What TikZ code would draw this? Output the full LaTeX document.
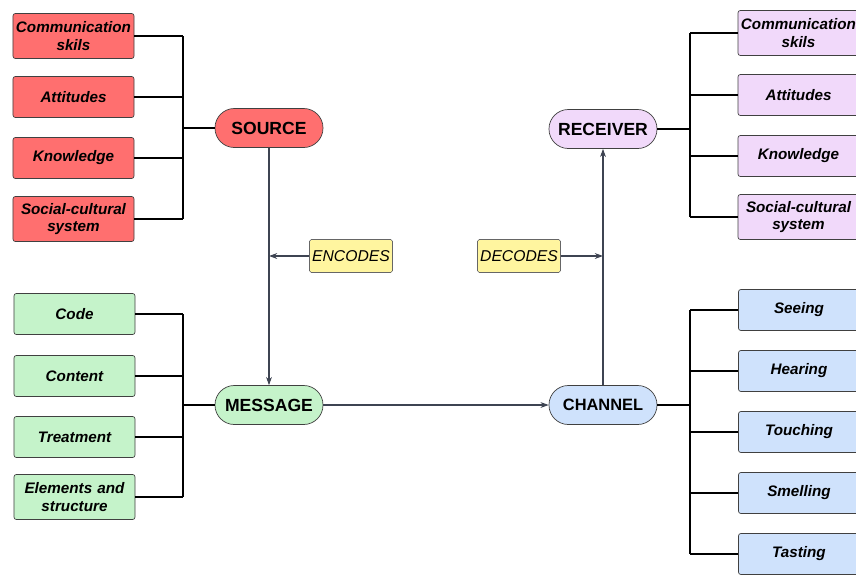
\documentclass[tikz,border=0pt]{standalone}
\usepackage{fontspec}
\setsansfont{Liberation Sans}
\usepackage{tikz}
\usetikzlibrary{arrows.meta}

\definecolor{srcred}{HTML}{FF6F6F}
\definecolor{recvpurple}{HTML}{F1D9FA}
\definecolor{msggreen}{HTML}{C5F3CA}
\definecolor{chanblue}{HTML}{CFE2FC}
\definecolor{tagyellow}{HTML}{FFF59F}
\definecolor{flowgray}{HTML}{3E4452}

\begin{document}
\begin{tikzpicture}[x=0.03cm, y=-0.03cm,
		item/.style={draw=black!75, line width=0.6pt, rounded corners=2pt, minimum width=3.63cm, text width=3.57cm, align=center, inner xsep=0.5pt, inner ysep=1pt, font=\sffamily\bfseries\itshape\fontsize{13}{15}\selectfont},
		hub/.style={draw=black!75, line width=0.6pt, rounded corners=0.58cm, minimum width=3.24cm, minimum height=1.17cm, font=\sffamily\bfseries\fontsize{15}{17}\selectfont},
		tag/.style={draw=black!60, line width=0.5pt, fill=tagyellow, rounded corners=1.5pt, minimum width=2.49cm, minimum height=0.99cm, inner sep=1pt, font=\sffamily\itshape\fontsize{13.4}{15}\selectfont},
		bus/.style={line width=0.9pt},
		flow/.style={draw=flowgray, line width=0.9pt, -{Stealth[length=7pt,width=5pt]}}
	]
		\useasboundingbox (0,0) rectangle (856,574);

		\node[hub, fill=srcred] (source) at (269,128) {SOURCE};
		\node[hub, fill=msggreen] (message) at (269,405) {MESSAGE};
		\node[hub, fill=chanblue, font=\sffamily\bfseries\fontsize{14}{16}\selectfont] (channel) at (603,405) {CHANNEL};
		\node[hub, fill=recvpurple] (receiver) at (603,129) {RECEIVER};

		\begin{scope}
				\foreach \idx/\yy/\hh/\lbl in{
						1/36/45/Communication skils,
						2/97/41/Attitudes,
						3/158/41/Knowledge,
						4/219/45/Social-cultural system
				}{
				\node[item, fill=srcred, minimum height=\hh*0.03cm] (s\idx) at (73.5,\yy) {\lbl};
				}
				\foreach \idx/\yy/\hh/\lbl in{
						1/33/45/Communication skils,
						2/95/41/Attitudes,
						3/156/41/Knowledge,
						4/217/45/Social-cultural system
				}{
				\node[item, fill=recvpurple, minimum height=\hh*0.03cm] (r\idx) at (798.5,\yy) {\lbl};
				}
				\coordinate (sbus) at (183,128);
				\coordinate (rbus) at (690,129);
				\foreach \idx in {1,...,4}{
				\draw[bus] (s\idx.east) -- (s\idx.east -| sbus);
				\draw[bus] (r\idx.west) -- (r\idx.west -| rbus);
				}
				\draw[bus] (s1.east -| sbus) -- (s4.east -| sbus);
				\draw[bus] (r1.west -| rbus) -- (r4.west -| rbus);
				\draw[bus] (source.west) -- (sbus);
				\draw[bus] (receiver.east) -- (rbus);
		\end{scope}

		\begin{scope}
				\foreach \idx/\yy/\hh/\lbl in{
						1/314/41/Code,
						2/376/41/Content,
						3/437/41/Treatment,
						4/497/45/Elements~and structure
				}{
				\node[item, fill=msggreen, minimum height=\hh*0.03cm] (m\idx) at (74.5,\yy) {\lbl};
				}
				\foreach \idx/\yy/\lbl in{
						1/310/Seeing,
						2/371/Hearing,
						3/432/Touching,
						4/493/Smelling,
						5/554/Tasting
				}{
				\node[item, fill=chanblue, minimum height=1.23cm] (c\idx) at (799,\yy) {\lbl};
				}
				\coordinate (mbus) at (183,405);
				\coordinate (cbus) at (690,405);
				\foreach \idx in {1,...,4}{
				\draw[bus] (m\idx.east) -- (m\idx.east -| mbus);
				}
				\foreach \idx in {1,...,5}{
				\draw[bus] (c\idx.west) -- (c\idx.west -| cbus);
				}
				\draw[bus] (m1.east -| mbus) -- (m4.east -| mbus);
				\draw[bus] (c1.west -| cbus) -- (c5.west -| cbus);
				\draw[bus] (message.west) -- (mbus);
				\draw[bus] (channel.east) -- (cbus);
		\end{scope}

		\draw[flow] (source) -- (message);
		\draw[flow] (message) -- (channel);
		\draw[flow] (channel) -- (receiver);
		\node[tag] (encodes) at (351,256) {ENCODES};
		\node[tag] (decodes) at (519,256) {DECODES};
		\draw[flow] (encodes.west) -- (encodes.west -| source);
		\draw[flow] (decodes.east) -- (decodes.east -| receiver);
\end{tikzpicture}
\end{document}
